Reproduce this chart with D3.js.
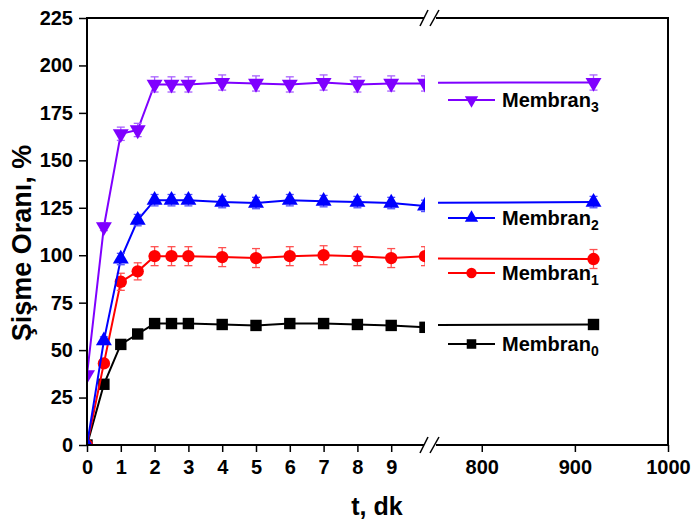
<!DOCTYPE html>
<html>
<head>
<meta charset="utf-8">
<script src="https://cdnjs.cloudflare.com/ajax/libs/d3/7.8.5/d3.min.js"></script>
<style>
	body { margin: 0; background: white; }
	svg text { font-family: Arial, "Liberation Sans", sans-serif; font-weight: bold; }
</style>
</head>
<body>
<svg id="chart" width="691" height="523"></svg>
<script>
	// data
	var times = [0, 0.5, 1, 1.5, 2, 2.5, 3, 4, 5, 6, 7, 8, 9, 10, 920];
	var membran0 = [0, 32, 53, 58.5, 64, 64, 64, 63.5, 63, 64, 64, 63.5, 63, 62, 63.5];
	var membran1 = [0, 43, 86, 91.5, 99.5, 99.5, 99.5, 99, 98.5, 99.5, 100, 99.5, 98.5, 99.5, 98];
	var membran2 = [0, 55, 98, 118.5, 129, 129, 129, 128, 127.5, 129, 128.5, 128, 127.5, 126, 128];
	var membran3 = [37, 115, 164, 166, 190, 190, 190, 191, 190.5, 190, 191, 190, 190.5, 190.5, 191];
	var err0 = [0, 1, 1.5, 2, 2.5, 2.5, 2.5, 2.5, 2.5, 2.5, 2.5, 2.5, 2.5, 2.5, 2.5];
	var err1 = [0, 2, 4.5, 4.5, 5, 5, 5, 5, 5, 5, 5, 5, 5, 5, 5];
	var err2 = [0, 2, 3, 3, 3, 3, 3, 3, 3, 3, 3, 3, 3, 3, 3];
	var err3 = [0, 2, 3.5, 3.5, 4, 4, 4, 4, 4, 4, 4, 4, 4, 4, 4];
	var seriesNames = ["Membran", "Membran", "Membran", "Membran"];
	var seriesSubs = ["0", "1", "2", "3"];
	var leftTicks = [0, 1, 2, 3, 4, 5, 6, 7, 8, 9];
	var rightTicks = [800, 900, 1000];
	var yTicks = [0, 25, 50, 75, 100, 125, 150, 175, 200, 225];

	var colors = ["#000000", "#ff0000", "#0000ff", "#7f00ff"];
	var errColors = ["#555555", "#ff5050", "#5050ff", "#a860ff"];
	var symbols = [d3.symbolSquare, d3.symbolCircle, d3.symbolTriangle, "down"];
	var legendY = [344, 273, 218, 100];

	var svg = d3.select("#chart");
	var LEFT = 87, TOP = 18, BOTTOM = 445, RIGHT = 668;
	var BREAK_L = 425, BREAK_R = 438;

	var xL = d3.scaleLinear().domain([0, 10]).range([LEFT, BREAK_L]);
	var xR = d3.scaleLinear().domain([753, 1000]).range([BREAK_R, RIGHT]);
	var y = d3.scaleLinear().domain([0, 225]).range([BOTTOM, TOP]);

	var defs = svg.append("defs");
	defs.append("clipPath").attr("id", "clipL").append("rect")
		.attr("x", LEFT).attr("y", TOP).attr("width", BREAK_L - LEFT).attr("height", BOTTOM - TOP);
	defs.append("clipPath").attr("id", "clipR").append("rect")
		.attr("x", BREAK_R).attr("y", TOP).attr("width", RIGHT - BREAK_R).attr("height", BOTTOM - TOP);

	var allSeries = [membran0, membran1, membran2, membran3];
	var allErr = [err0, err1, err2, err3];

	function markerPath(k, size) {
		if (symbols[k] === "down") {
			return d3.symbol().type(d3.symbolTriangle).size(size)();
		}
		return d3.symbol().type(symbols[k]).size(size)();
	}
	var sizes = [130, 120, 110, 110];

	function drawSeg(x, clipId) {
		var g = svg.append("g").attr("clip-path", "url(#" + clipId + ")");
		for (var k = 0; k < 4; k++) {
			var pts = times.map(function(t, i) { return {t: t, v: allSeries[k][i], e: allErr[k][i]}; });
			g.append("path")
				.datum(pts)
				.attr("fill", "none")
				.attr("stroke", colors[k])
				.attr("stroke-width", 2)
				.attr("d", d3.line().x(function(d) { return x(d.t); }).y(function(d) { return y(d.v); }));
			var eg = g.append("g").attr("stroke", errColors[k]).attr("stroke-width", 1.3);
			pts.forEach(function(d) {
				if (d.e <= 0) return;
				var cx = x(d.t);
				eg.append("line").attr("x1", cx).attr("x2", cx).attr("y1", y(d.v - d.e)).attr("y2", y(d.v + d.e));
				eg.append("line").attr("x1", cx - 4).attr("x2", cx + 4).attr("y1", y(d.v - d.e)).attr("y2", y(d.v - d.e));
				eg.append("line").attr("x1", cx - 4).attr("x2", cx + 4).attr("y1", y(d.v + d.e)).attr("y2", y(d.v + d.e));
			});
			g.selectAll(null)
				.data(pts)
				.enter()
				.append("path")
				.attr("d", markerPath(k, sizes[k]))
				.attr("fill", colors[k])
				.attr("transform", function(d) {
					return "translate(" + x(d.t) + "," + y(d.v) + ")" + (symbols[k] === "down" ? " rotate(180)" : "");
				});
		}
	}
	drawSeg(xL, "clipL");
	drawSeg(xR, "clipR");

	// frame
	var frame = svg.append("g").attr("stroke", "black").attr("stroke-width", 2).attr("fill", "none");
	frame.append("line").attr("x1", LEFT).attr("x2", LEFT).attr("y1", TOP).attr("y2", BOTTOM + 1);
	frame.append("line").attr("x1", RIGHT).attr("x2", RIGHT).attr("y1", TOP).attr("y2", BOTTOM + 1);
	[TOP, BOTTOM].forEach(function(yy) {
		frame.append("line").attr("x1", LEFT - 1).attr("x2", BREAK_L - 1).attr("y1", yy).attr("y2", yy);
		frame.append("line").attr("x1", BREAK_R - 2).attr("x2", RIGHT + 1).attr("y1", yy).attr("y2", yy);
		frame.append("line").attr("x1", BREAK_L - 5).attr("x2", BREAK_L + 3).attr("y1", yy + 8).attr("y2", yy - 8).attr("stroke-width", 1.5);
		frame.append("line").attr("x1", BREAK_R - 8).attr("x2", BREAK_R + 1).attr("y1", yy + 8).attr("y2", yy - 8).attr("stroke-width", 1.5);
	});

	// axes
	function styleAxis(sel) {
		sel.select(".domain").remove();
		sel.selectAll(".tick line").attr("stroke", "black").attr("stroke-width", 1.5);
		sel.selectAll(".tick text").attr("fill", "black").style("font-size", "20px");
	}
	svg.append("g").attr("transform", "translate(0," + BOTTOM + ")")
		.call(d3.axisBottom(xL).tickValues(leftTicks).tickSize(7).tickPadding(8).tickFormat(d3.format("d")))
		.call(styleAxis);
	svg.append("g").attr("transform", "translate(0," + BOTTOM + ")")
		.call(d3.axisBottom(xR).tickValues(rightTicks).tickSize(7).tickPadding(8).tickFormat(d3.format("d")))
		.call(styleAxis);
	svg.append("g").attr("transform", "translate(" + LEFT + ",0)")
		.call(d3.axisLeft(y).tickValues(yTicks).tickSize(8).tickPadding(6))
		.call(styleAxis);

	// titles
	svg.append("text")
		.attr("x", 377).attr("y", 515)
		.attr("text-anchor", "middle")
		.style("font-size", "25px")
		.text("t, dk");
	svg.append("text")
		.attr("transform", "translate(31,243) rotate(-90)")
		.attr("text-anchor", "middle")
		.style("font-size", "27px")
		.text("Şişme Oranı, %");

	// legend
	for (var k = 0; k < 4; k++) {
		var lg = svg.append("g").attr("transform", "translate(0," + legendY[k] + ")");
		lg.append("line").attr("x1", 448).attr("x2", 495).attr("y1", 0).attr("y2", 0)
			.attr("stroke", colors[k]).attr("stroke-width", 2);
		lg.append("path")
			.attr("d", markerPath(k, sizes[k] * 0.7))
			.attr("fill", colors[k])
			.attr("transform", "translate(471.5,0)" + (symbols[k] === "down" ? " rotate(180)" : ""));
		var t = lg.append("text").attr("x", 502).attr("y", 7).style("font-size", "20px");
		t.append("tspan").text(seriesNames[k]);
		t.append("tspan").attr("dy", 5).style("font-size", "14px").text(seriesSubs[k]);
	}
</script>
</body>
</html>
